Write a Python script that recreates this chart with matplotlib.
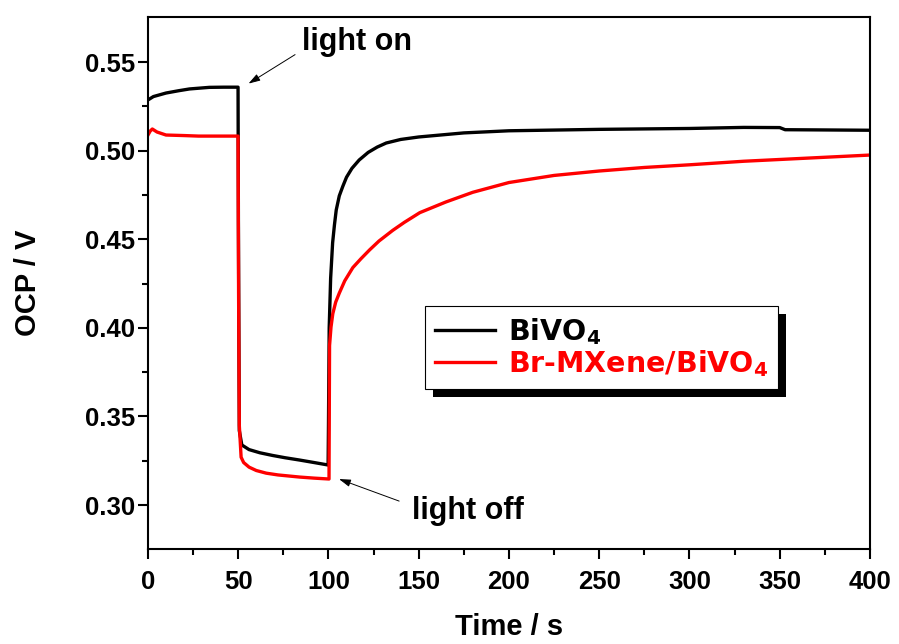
"""
Open circuit potential under chopped light: BiVO4 vs Br-MXene/BiVO4
"""

import matplotlib
matplotlib.use('Agg')
import matplotlib.pyplot as plt
from matplotlib.patches import Rectangle
from matplotlib.transforms import IdentityTransform

# Data (time in s, OCP in V)
bivo4_t = [0, 3, 10, 17, 23, 34, 42, 49.9,
           50.1, 50.6, 52, 56, 62, 69, 76, 84, 92, 99.8,
           100.0, 100.4, 101.2, 102.3, 103.3, 104.3, 106, 108, 110, 113, 117,
           122, 127, 132, 140, 150, 175, 200, 250, 300, 330, 350, 353, 370, 400]
bivo4_ocp = [0.5286, 0.5305, 0.5325, 0.5338, 0.5348, 0.5357, 0.5358, 0.5358,
             0.46, 0.342, 0.3339, 0.3313, 0.3295, 0.328, 0.3267, 0.3254, 0.3240, 0.3226,
             0.345, 0.400, 0.428, 0.448, 0.458, 0.4665, 0.4745, 0.480, 0.485, 0.490, 0.4947,
             0.4990, 0.5020, 0.5043, 0.5063, 0.5077, 0.5100, 0.5112, 0.5120, 0.5125, 0.5131, 0.5130,
             0.5118, 0.5117, 0.5115]

mx_t = [0, 1.2, 2.4, 5, 10, 20, 28, 40, 49.9,
        50.2, 50.6, 51.6, 53, 56, 60, 65.5, 72, 84, 92, 100.3,
        100.6, 101.4, 102.4, 104, 106, 109, 113.5, 118, 122.8, 128, 135.6, 142, 150.6,
        165, 180, 200, 225, 250, 275, 300, 330, 360, 400]
mx_ocp = [0.5088, 0.5110, 0.5122, 0.5105, 0.5088, 0.5085, 0.5082, 0.5082, 0.5082,
          0.42, 0.345, 0.327, 0.3240, 0.3214, 0.3195, 0.3180, 0.3170, 0.3158, 0.3152, 0.3147,
          0.390, 0.4004, 0.408, 0.4145, 0.4196, 0.4265, 0.434, 0.439, 0.444, 0.449, 0.455, 0.4595, 0.465,
          0.471, 0.4765, 0.4820, 0.4860, 0.4885, 0.4905, 0.4920, 0.4940, 0.4955, 0.4975]

series_labels = ['BiVO$_\\mathbf{4}$', 'Br-MXene/BiVO$_\\mathbf{4}$']
x_ticks = [0, 50, 100, 150, 200, 250, 300, 350, 400]
y_ticks = [0.30, 0.35, 0.40, 0.45, 0.50, 0.55]


def main():
    plt.rcParams['font.family'] = ['Liberation Sans', 'DejaVu Sans']
    plt.rcParams['font.weight'] = 'bold'
    plt.rcParams['mathtext.fontset'] = 'dejavusans'

    fig = plt.figure(figsize=(8.99, 6.44), dpi=100)
    ax = fig.add_axes([0.1646, 0.1475, 0.8031, 0.8261])

    ax.plot(bivo4_t, bivo4_ocp, color='black', lw=2.4, label=series_labels[0])
    ax.plot(mx_t, mx_ocp, color='#ff0000', lw=2.4, label=series_labels[1])

    ax.set_xlim(0, 400)
    ax.set_ylim(0.2752, 0.5754)
    ax.set_xticks(x_ticks)
    ax.set_yticks(y_ticks)
    ax.set_xticks(range(25, 400, 50), minor=True)
    ax.set_yticks([0.325, 0.375, 0.425, 0.475, 0.525], minor=True)
    ax.set_yticklabels(['%.2f' % v for v in y_ticks])
    ax.tick_params(which='major', direction='out', length=7, width=1.5, labelsize=18.5)
    ax.tick_params(which='minor', direction='out', length=4.5, width=1.5)
    ax.tick_params(axis='x', pad=8)
    ax.tick_params(axis='y', pad=2)
    for s in ax.spines.values():
        s.set_linewidth(1.5)

    ax.set_xlabel('Time / s', fontsize=21, fontweight='bold', labelpad=14)
    ax.set_ylabel('OCP / V', fontsize=21, fontweight='bold', labelpad=31)

    # Annotations
    arrow = dict(arrowstyle='-|>,head_length=0.7,head_width=0.22', color='black', lw=0.7)
    ax.annotate('', xy=(54.4, 0.537), xytext=(82.8, 0.555), arrowprops=arrow,
                annotation_clip=False)
    ax.text(85.6, 0.5565, 'light on', fontsize=22, fontweight='bold',
            ha='left', va='baseline', clip_on=False)
    ax.annotate('', xy=(104.4, 0.3152), xytext=(140.6, 0.3017), arrowprops=arrow)
    ax.text(146.1, 0.2921, 'light off', fontsize=22, fontweight='bold',
            ha='left', va='baseline')

    # Legend with a hard black drop shadow
    leg = ax.legend(loc='upper left', bbox_to_anchor=(425 / 899, 1 - 306 / 644),
                    bbox_transform=fig.transFigure, borderaxespad=0,
                    prop={'family': 'DejaVu Sans', 'weight': 'bold', 'size': 20.5},
                    frameon=True, fancybox=False, edgecolor='black', framealpha=1,
                    handlelength=2.1, handletextpad=0.45, labelspacing=0.05,
                    borderpad=0.35)
    leg.get_frame().set_linewidth(0.8)
    for txt, c in zip(leg.get_texts(), ['black', '#ff0000']):
        txt.set_color(c)
    for line in leg.get_lines():
        line.set_linewidth(2.4)

    fig.canvas.draw()
    bb = leg.get_window_extent()
    shadow = Rectangle((bb.x0 + 8, bb.y0 - 8), bb.width, bb.height,
                       transform=IdentityTransform(), facecolor='black',
                       edgecolor='none', zorder=4, clip_on=False)
    ax.add_patch(shadow)
    leg.set_zorder(5)

    fig.savefig('out.png', dpi=100)


if __name__ == '__main__':
    main()
